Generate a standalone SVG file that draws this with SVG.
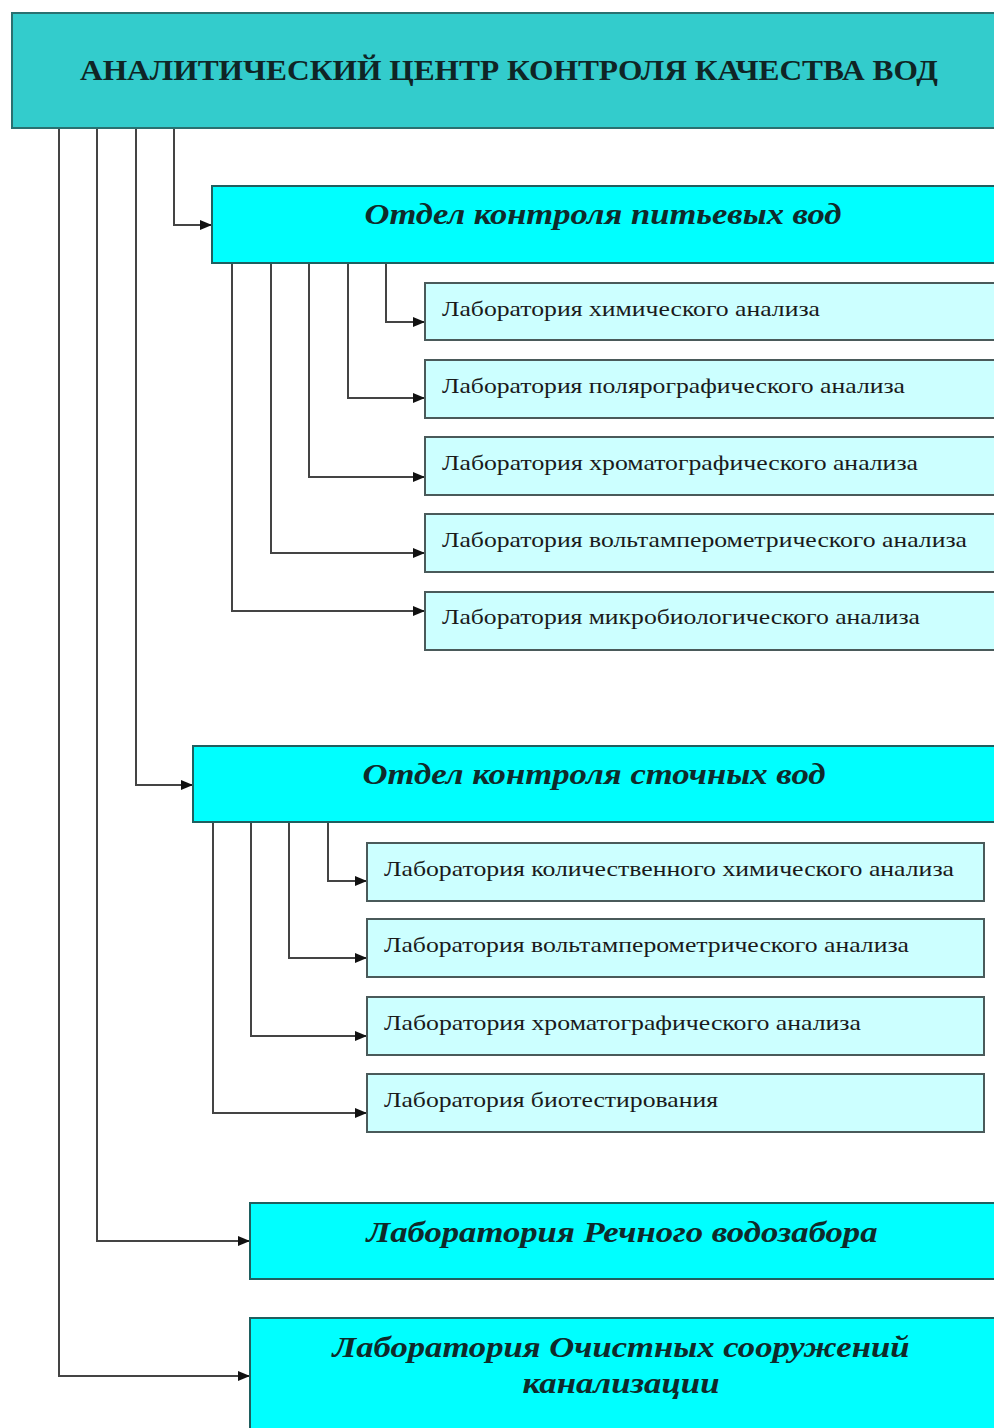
<svg xmlns="http://www.w3.org/2000/svg" width="994" height="1428" viewBox="0 0 994 1428">
<defs>
<marker id="ah" markerWidth="12" markerHeight="10" refX="12" refY="5" orient="auto" markerUnits="userSpaceOnUse">
<path d="M0,0 L12,5 L0,10 Z" fill="#111"/>
</marker>
<style>
.top{fill:#33CCCC;stroke:#2a7070;stroke-width:2}
.dep{fill:#00FFFF;stroke:#1f5f5f;stroke-width:2}
.lab{fill:#CCFFFF;stroke:#4a5a5a;stroke-width:2}
.ttl{font-family:"Liberation Serif",serif;font-weight:bold;font-size:30px;fill:#0f2525}
.dt{font-family:"Liberation Serif",serif;font-weight:bold;font-style:italic;font-size:30px;fill:#0f2a2a;text-anchor:middle}
.lt{font-family:"Liberation Serif",serif;font-size:21px;fill:#1a1a1a}
.c{fill:none;stroke:#444;stroke-width:2}
</style>
</defs>
<rect width="994" height="1428" fill="#fff"/>
<g id="connectors">
<path class="c" d="M174,128 V225 H212" marker-end="url(#ah)"/>
<path class="c" d="M136,128 V785 H193" marker-end="url(#ah)"/>
<path class="c" d="M97,128 V1241 H250" marker-end="url(#ah)"/>
<path class="c" d="M59,128 V1376 H250" marker-end="url(#ah)"/>
<path class="c" d="M386,263 V322 H425" marker-end="url(#ah)"/>
<path class="c" d="M348,263 V398 H425" marker-end="url(#ah)"/>
<path class="c" d="M309,263 V477 H425" marker-end="url(#ah)"/>
<path class="c" d="M271,263 V553 H425" marker-end="url(#ah)"/>
<path class="c" d="M232,263 V611 H425" marker-end="url(#ah)"/>
<path class="c" d="M328,822 V881 H367" marker-end="url(#ah)"/>
<path class="c" d="M289,822 V958 H367" marker-end="url(#ah)"/>
<path class="c" d="M251,822 V1036 H367" marker-end="url(#ah)"/>
<path class="c" d="M213,822 V1113 H367" marker-end="url(#ah)"/>
</g>
<g id="center">
<rect class="top" x="12" y="13" width="990" height="115"/>
<text class="ttl" x="80" y="80" textLength="858" lengthAdjust="spacingAndGlyphs">АНАЛИТИЧЕСКИЙ ЦЕНТР КОНТРОЛЯ КАЧЕСТВА ВОД</text>
</g>
<g id="dept-drinking">
<rect class="dep" x="212" y="186" width="790" height="77"/>
<text class="dt" x="603" y="224" textLength="477" lengthAdjust="spacingAndGlyphs">Отдел контроля питьевых вод</text>
</g>
<g id="lab-d1"><rect class="lab" x="425" y="283" width="577" height="57"/><text class="lt" x="442" y="316" textLength="378" lengthAdjust="spacingAndGlyphs">Лаборатория химического анализа</text></g>
<g id="lab-d2"><rect class="lab" x="425" y="360" width="577" height="58"/><text class="lt" x="442" y="393" textLength="463" lengthAdjust="spacingAndGlyphs">Лаборатория полярографического анализа</text></g>
<g id="lab-d3"><rect class="lab" x="425" y="437" width="577" height="58"/><text class="lt" x="442" y="470" textLength="476" lengthAdjust="spacingAndGlyphs">Лаборатория хроматографического анализа</text></g>
<g id="lab-d4"><rect class="lab" x="425" y="514" width="577" height="58"/><text class="lt" x="442" y="547" textLength="525" lengthAdjust="spacingAndGlyphs">Лаборатория вольтамперометрического анализа</text></g>
<g id="lab-d5"><rect class="lab" x="425" y="592" width="577" height="58"/><text class="lt" x="442" y="624" textLength="478" lengthAdjust="spacingAndGlyphs">Лаборатория микробиологического анализа</text></g>
<g id="dept-waste">
<rect class="dep" x="193" y="746" width="809" height="76"/>
<text class="dt" x="594" y="784" textLength="463" lengthAdjust="spacingAndGlyphs">Отдел контроля сточных вод</text>
</g>
<g id="lab-w1"><rect class="lab" x="367" y="843" width="617" height="58"/><text class="lt" x="384" y="876" textLength="570" lengthAdjust="spacingAndGlyphs">Лаборатория количественного химического анализа</text></g>
<g id="lab-w2"><rect class="lab" x="367" y="919" width="617" height="58"/><text class="lt" x="384" y="952" textLength="525" lengthAdjust="spacingAndGlyphs">Лаборатория вольтамперометрического анализа</text></g>
<g id="lab-w3"><rect class="lab" x="367" y="997" width="617" height="58"/><text class="lt" x="384" y="1030" textLength="477" lengthAdjust="spacingAndGlyphs">Лаборатория хроматографического анализа</text></g>
<g id="lab-w4"><rect class="lab" x="367" y="1074" width="617" height="58"/><text class="lt" x="384" y="1107" textLength="334" lengthAdjust="spacingAndGlyphs">Лаборатория биотестирования</text></g>
<g id="lab-river">
<rect class="dep" x="250" y="1203" width="752" height="76"/>
<text class="dt" x="622" y="1242" textLength="511" lengthAdjust="spacingAndGlyphs">Лаборатория Речного водозабора</text>
</g>
<g id="lab-treatment">
<rect class="dep" x="250" y="1318" width="752" height="130"/>
<text class="dt" x="621" y="1357" textLength="577" lengthAdjust="spacingAndGlyphs">Лаборатория Очистных сооружений</text>
<text class="dt" x="621" y="1393" textLength="197" lengthAdjust="spacingAndGlyphs">канализации</text>
</g>
</svg>
